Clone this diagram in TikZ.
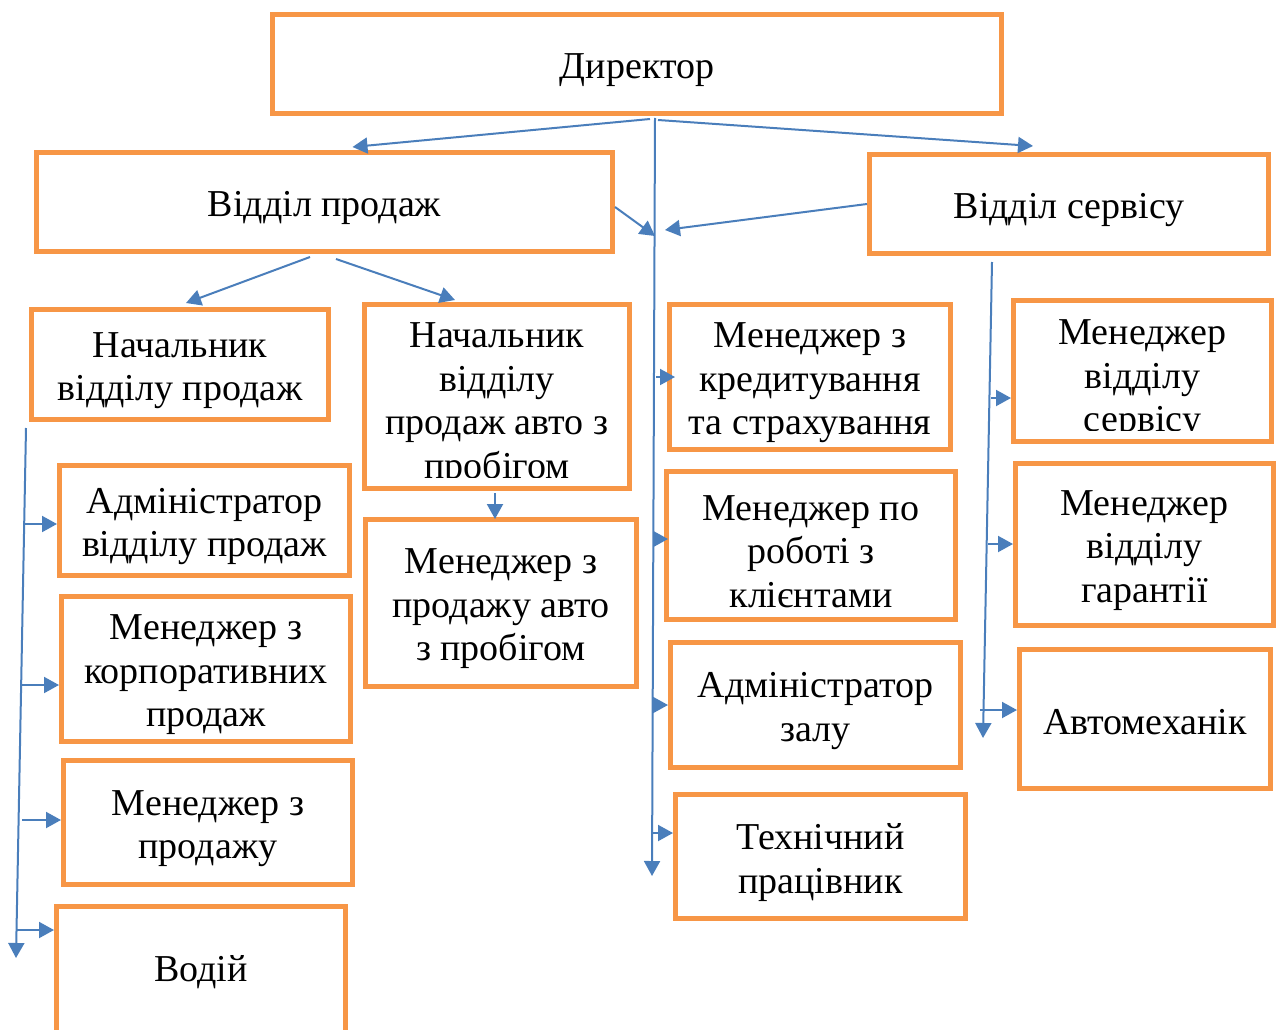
\documentclass[tikz,border=0pt]{standalone}
\usepackage{fontspec}
\setmainfont{Liberation Serif}
\usetikzlibrary{arrows.meta}
\definecolor{bord}{HTML}{F79646}
\definecolor{conn}{HTML}{4A7EBB}
\begin{document}
\begin{tikzpicture}[x=1pt,y=-1pt,
  box/.style={draw=bord, line width=5pt, fill=white, inner sep=0pt},
  txt/.style={inner sep=0pt, align=center, font=\fontsize{38}{43.5}\selectfont},
  boxt/.style n args={3}{path picture={\node[txt] (#1) at ([yshift=#2]path picture bounding box.center) {#3};}},
  boxc/.style n args={3}{path picture={\clip (path picture bounding box.north west) rectangle ([yshift=11.5pt]path picture bounding box.south east);
     \node[txt] (#1) at ([yshift=#2]path picture bounding box.center) {#3};}},
  arr/.style={draw=conn, line width=2pt, -{Triangle[length=15pt,width=16pt]}}]
\useasboundingbox (0,0) rectangle (1279,1030);
\begin{scope}
\clip (0,0) rectangle (1279,1030);
% boxes
\node[box, minimum width=729pt, minimum height=99pt, boxt={dirt}{-6pt}{Директор}] (dir) at (637,64) {};
\node[box, minimum width=576pt, minimum height=99pt, boxt={salest}{-6pt}{Відділ продаж}] (sales) at (324.5,202) {};
\node[box, minimum width=399pt, minimum height=99pt, boxt={servt}{-6pt}{Відділ сервісу}] (serv) at (1069,204) {};
\node[box, minimum width=297pt, minimum height=110pt, boxt={hst}{-6pt}{Начальник\\відділу продаж}] (hs) at (180,364.5) {};
\node[box, minimum width=265pt, minimum height=184pt, boxc={hut}{-8pt}{Начальник\\відділу\\продаж авто з\\пробігом}] (hu) at (497,396.5) {};
\node[box, minimum width=290pt, minimum height=110pt, boxt={admt}{-6pt}{Адміністратор\\відділу продаж}] (adm) at (204.5,520.5) {};
\node[box, minimum width=289pt, minimum height=145pt, boxt={corpt}{-6pt}{Менеджер з\\корпоративних\\продаж}] (corp) at (206,669) {};
\node[box, minimum width=289pt, minimum height=124pt, boxt={msalet}{-6pt}{Менеджер з\\продажу}] (msale) at (208,822.5) {};
\node[box, minimum width=289pt, minimum height=154pt] (driver) at (201,983) {};
\node[txt] (drvt) at (201,972) {Водій};
\node[box, minimum width=271pt, minimum height=167pt, boxt={musedt}{-6pt}{Менеджер з\\продажу авто\\з пробігом}] (mused) at (501,603) {};
\node[box, minimum width=281pt, minimum height=145pt, boxt={credt}{-6pt}{Менеджер з\\кредитування\\та страхування}] (cred) at (810,377) {};
\node[box, minimum width=289pt, minimum height=148pt, boxt={clit}{-6pt}{Менеджер по\\роботі з\\клієнтами}] (cli) at (811,545.5) {};
\node[box, minimum width=290pt, minimum height=125pt, boxt={hallt}{-6pt}{Адміністратор\\залу}] (hall) at (815.5,705) {};
\node[box, minimum width=290pt, minimum height=124pt, boxt={techt}{-6pt}{Технічний\\працівник}] (tech) at (820.5,856.5) {};
\node[box, minimum width=258pt, minimum height=141pt, boxc={msrvt}{-9pt}{Менеджер\\відділу\\сервісу}] (msrv) at (1142.5,371) {};
\node[box, minimum width=258pt, minimum height=162pt, boxt={mgart}{-6pt}{Менеджер\\відділу\\гарантії}] (mgar) at (1144.5,544.5) {};
\node[box, minimum width=251pt, minimum height=139pt, boxt={mecht}{-3pt}{Автомеханік}] (mech) at (1145,719) {};
\end{scope}
% connector points
\coordinate (c0) at (655,118);
\coordinate (c9) at (652,876);
\coordinate (d1) at (650,119);
\coordinate (d2) at (658,120);
\coordinate (ct1) at (655,236);
\coordinate (ct2) at (665,230);
\coordinate (cb1) at (656,377);
\coordinate (cb2) at (654,539);
\coordinate (cb3) at (653,705);
\coordinate (cb4) at (653,833);
\coordinate (lt0) at (26,428);
\coordinate (lt9) at (16,958);
\coordinate (l1) at (24,524);
\coordinate (l2) at (21,685);
\coordinate (l3) at (22,820);
\coordinate (l4) at (17,930);
\coordinate (rt0) at (992,262);
\coordinate (rt9) at (983,738);
\coordinate (r1) at (991,398);
\coordinate (r2) at (988,544);
\coordinate (r3) at (980,710);
% connectors
\draw[arr] (c0) -- (c9);
\draw[arr] (d1) -- ([xshift=28pt,yshift=3pt]sales.north);
\draw[arr] (d2) -- ([xshift=-36pt,yshift=6pt]serv.north);
\draw[arr] ([yshift=-5pt]sales.east) -- (ct1);
\draw[arr] (serv.west) -- (ct2);
\draw[arr] ([xshift=-14.5pt,yshift=-3pt]sales.south) -- ([xshift=6pt,yshift=4pt]hs.north);
\draw[arr] ([xshift=11.5pt,yshift=-5pt]sales.south) -- ([xshift=-42pt,yshift=2pt]hu.north);
\draw[arr] ([xshift=-2pt,yshift=-2pt]hu.south) -- ([xshift=-6pt,yshift=-2pt]mused.north);
\draw[arr] (cb1) -- ([xshift=8pt]cb1 -| cred.west);
\draw[arr] (cb2) -- ([xshift=4pt]cb2 -| cli.west);
\draw[arr] (cb3) -- (cb3 -| hall.west);
\draw[arr] (cb4) -- (cb4 -| tech.west);
\draw[arr] (lt0) -- (lt9);
\draw[arr] (l1) -- (l1 -| adm.west);
\draw[arr] (l2) -- (l2 -| corp.west);
\draw[arr] (l3) -- (l3 -| msale.west);
\draw[arr] (l4) -- (l4 -| driver.west);
\draw[arr] (rt0) -- (rt9);
\draw[arr] (r1) -- (r1 -| msrv.west);
\draw[arr] (r2) -- (r2 -| mgar.west);
\draw[arr] (r3) -- (r3 -| mech.west);
\end{tikzpicture}
\end{document}
